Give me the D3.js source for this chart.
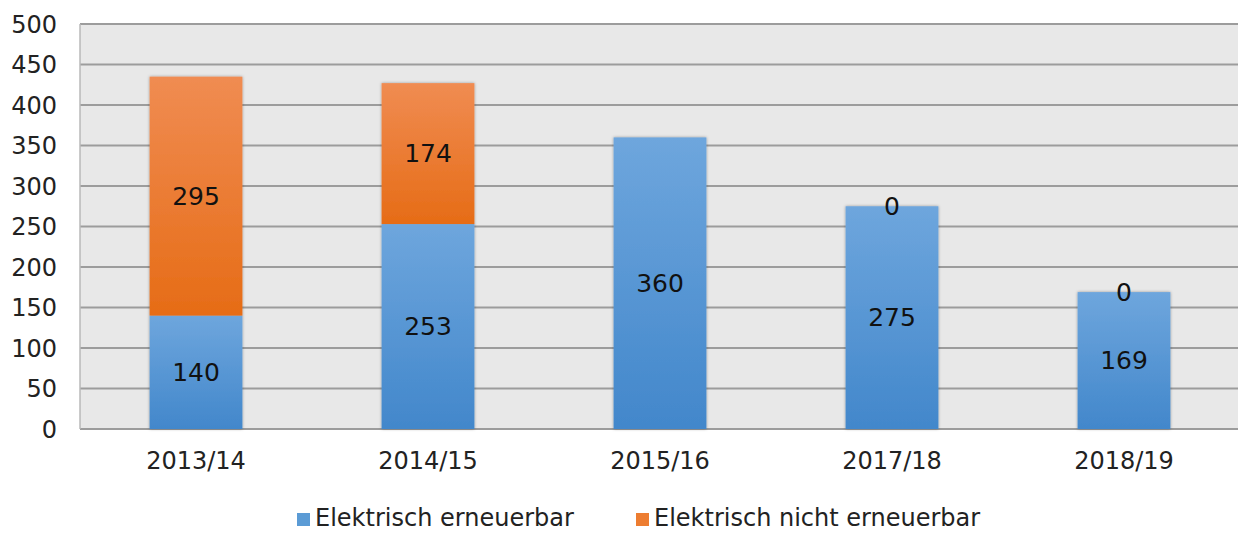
<!DOCTYPE html>
<html lang="de">
<head>
	<meta charset="UTF-8">
	<title>Elektrisch</title>
	<script src="https://cdn.jsdelivr.net/npm/d3@7/dist/d3.min.js"></script>
	<style>
		body { margin: 0; background: #fff; }
		text { font-family: "DejaVu Sans", Verdana, sans-serif; }
	</style>
</head>
<body>
	<div id="vis"></div>
	<script>
		var width = 1238;
		var height = 533;

		// data
		var years = ["2013/14", "2014/15", "2015/16", "2017/18", "2018/19"];
		var erneuerbar = [140, 253, 360, 275, 169];
		var nichtErneuerbar = [295, 174, null, 0, 0];
		var yTicks = [0, 50, 100, 150, 200, 250, 300, 350, 400, 450, 500];
		var seriesNames = ["Elektrisch erneuerbar", "Elektrisch nicht erneuerbar"];

		var margin = {top: 24, right: -2, bottom: 104, left: 80};

		var svg = d3.select("#vis").append("svg")
				.attr("width", width)
				.attr("height", height);

		var defs = svg.append("defs");

		function grad(id, top, bottom) {
			var g = defs.append("linearGradient")
				.attr("id", id)
				.attr("x1", 0).attr("y1", 0)
				.attr("x2", 0).attr("y2", 1);
			g.append("stop").attr("offset", "0%").attr("stop-color", top);
			g.append("stop").attr("offset", "100%").attr("stop-color", bottom);
		}
		grad("gBlue", "#6ea6dd", "#4287cb");
		grad("gOrange", "#f08c52", "#e66c16");

		var shadow = defs.append("filter").attr("id", "shadow")
			.attr("x", "-20%").attr("y", "-20%").attr("width", "140%").attr("height", "140%");
		shadow.append("feDropShadow")
			.attr("dx", 0).attr("dy", 0)
			.attr("stdDeviation", 1.5)
			.attr("flood-color", "#000")
			.attr("flood-opacity", 0.35);

		var x = d3.scaleBand()
			.domain(years)
			.range([margin.left, width - margin.right])
			.paddingInner(0.6)
			.paddingOuter(0.3);

		var y = d3.scaleLinear()
			.domain([0, 500])
			.range([height - margin.bottom, margin.top]);

		// plot background
		svg.append("rect")
			.attr("x", margin.left)
			.attr("y", margin.top)
			.attr("width", width - margin.right - margin.left)
			.attr("height", y(0) - margin.top)
			.attr("fill", "#e8e8e8");

		// grid lines
		svg.append("g").selectAll("line")
			.data(yTicks)
			.join("line")
				.attr("x1", margin.left)
				.attr("x2", width - margin.right)
				.attr("y1", d => y(d))
				.attr("y2", d => y(d))
				.attr("stroke", "#9c9c9c")
				.attr("stroke-width", 2);

		svg.append("line")
			.attr("x1", margin.left).attr("x2", margin.left)
			.attr("y1", margin.top).attr("y2", y(0))
			.attr("stroke", "#b8b8b8")
			.attr("stroke-width", 1.5);

		// y axis
		var yAxis = svg.append("g")
			.attr("transform", "translate(" + (margin.left - 23) + ",0)")
			.call(d3.axisLeft(y).tickValues(yTicks).tickSize(0).tickPadding(0));
		yAxis.select(".domain").remove();
		yAxis.selectAll("text")
			.attr("font-size", 24)
			.attr("fill", "#222")
			.attr("dy", "0.35em");

		// x axis
		var xAxis = svg.append("g")
			.attr("transform", "translate(0," + y(0) + ")")
			.call(d3.axisBottom(x).tickSize(0).tickPadding(23));
		xAxis.select(".domain").remove();
		xAxis.selectAll("text")
			.attr("font-size", 24)
			.attr("fill", "#222");

		// stacked bars
		var rows = years.map(function(yr, i) {
			return {year: yr, a: erneuerbar[i], b: nichtErneuerbar[i]};
		});

		var bars = svg.append("g").attr("filter", "url(#shadow)");

		bars.selectAll(".blue")
			.data(rows)
			.join("rect")
				.attr("x", d => x(d.year))
				.attr("width", x.bandwidth())
				.attr("y", d => y(d.a))
				.attr("height", d => y(0) - y(d.a))
				.attr("fill", "url(#gBlue)");

		bars.selectAll(".orange")
			.data(rows.filter(d => d.b))
			.join("rect")
				.attr("x", d => x(d.year))
				.attr("width", x.bandwidth())
				.attr("y", d => y(d.a + d.b))
				.attr("height", d => y(d.a) - y(d.a + d.b))
				.attr("fill", "url(#gOrange)");

		// value labels
		var labels = svg.append("g")
			.attr("font-size", 25)
			.attr("fill", "#111")
			.attr("text-anchor", "middle");

		labels.selectAll(".la")
			.data(rows)
			.join("text")
				.attr("x", d => x(d.year) + x.bandwidth() / 2)
				.attr("y", d => y(d.a / 2))
				.attr("dy", "0.35em")
				.text(d => d.a);

		labels.selectAll(".lb")
			.data(rows.filter(d => d.b !== null))
			.join("text")
				.attr("x", d => x(d.year) + x.bandwidth() / 2)
				.attr("y", d => y(d.a + d.b / 2))
				.attr("dy", "0.35em")
				.text(d => d.b);

		// legend
		var legendItems = [
			{name: seriesNames[0], color: "#5b9bd5", x: 297},
			{name: seriesNames[1], color: "#ed7d31", x: 636}
		];
		var legend = svg.append("g");
		legend.selectAll("rect")
			.data(legendItems)
			.join("rect")
				.attr("x", d => d.x)
				.attr("y", 513)
				.attr("width", 13)
				.attr("height", 13)
				.attr("fill", d => d.color);
		legend.selectAll("text")
			.data(legendItems)
			.join("text")
				.attr("x", d => d.x + 18)
				.attr("y", 518)
				.attr("dy", "0.35em")
				.attr("font-size", 24)
				.attr("fill", "#222")
				.text(d => d.name);
	</script>
</body>
</html>
